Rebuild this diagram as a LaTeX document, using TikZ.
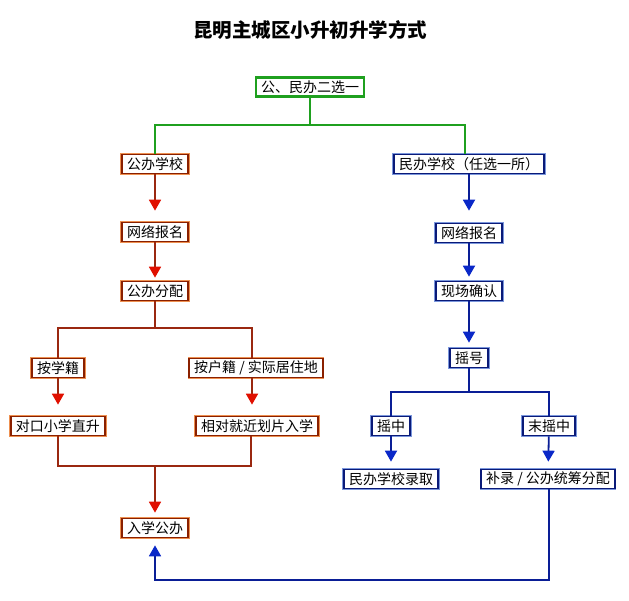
\documentclass[tikz,border=0pt]{standalone}
\usepackage{fontspec}
\setmainfont{Noto Sans CJK SC}
\usetikzlibrary{arrows.meta}
\definecolor{rline}{HTML}{9A2810}
\definecolor{rtip}{HTML}{E01000}
\definecolor{rbox}{HTML}{8A2000}
\definecolor{rglow}{HTML}{EE9050}
\definecolor{bline}{HTML}{0A1E96}
\definecolor{btip}{HTML}{0A28C8}
\definecolor{bbox}{HTML}{0A1A78}
\definecolor{bglow}{HTML}{7A96DC}
\definecolor{gline}{HTML}{1FA01F}
\tikzset{
  box/.style={inner xsep=5pt, inner ysep=2pt, minimum height=19pt, fill=white, font=\fontsize{14}{16}\selectfont, line width=1.7pt},
  rbx/.style={box, draw=rbox, preaction={draw=rglow, line width=3.2pt}},
  bbx/.style={box, draw=bbox, preaction={draw=bglow, line width=3.2pt}},
  gbx/.style={box, draw=gline, line width=2.2pt},
  rl/.style={draw=rline, line width=1.8pt},
  bl/.style={draw=bline, line width=1.8pt},
  gl/.style={draw=gline, line width=1.8pt},
  rarr/.style={rl, -{Triangle[length=11pt,width=12pt,color=rtip]}},
  barr/.style={bl, -{Triangle[length=11pt,width=12pt,color=btip]}},
}
\begin{document}
\begin{tikzpicture}[x=1pt,y=-1pt]
\useasboundingbox (0,0) rectangle (629,601);
\node[font=\fontsize{19.5}{22}\selectfont\bfseries] (title) at (310,30) {昆明主城区小升初升学方式};
\node[gbx] (top) at (310,87) {公、民办二选一};
\node[rbx] (gb) at (155,164) {公办学校};
\node[bbx] (mb) at (469,164) {民办学校（任选一所）};
\node[rbx] (gw) at (155,232) {网络报名};
\node[rbx] (gf) at (155,291) {公办分配};
\node[rbx] (xj) at (58,368) {按学籍};
\node[rbx] (hj) at (256,368) {按户籍 / 实际居住地};
\node[rbx] (dk) at (58,426) {对口小学直升};
\node[rbx] (xd) at (257,426) {相对就近划片入学};
\node[rbx] (rx) at (155,528) {入学公办};
\node[bbx] (mw) at (469,233) {网络报名};
\node[bbx] (xc) at (469,291) {现场确认};
\node[bbx] (yh) at (469,358) {摇号};
\node[bbx] (yz) at (391,426) {摇中};
\node[bbx] (wy) at (549,426) {末摇中};
\node[bbx] (ml) at (391,479) {民办学校录取};
\node[bbx] (bu) at (548,479) {补录 / 公办统筹分配};
\coordinate (g1) at (310,125);
\coordinate (r1) at (155,328);
\coordinate (r2) at (155,466);
\coordinate (b1) at (469,392);
\coordinate (b2) at (549,580);
% green
\draw[gl] (top.south) -- (g1) -| (gb.north);
\draw[gl] (g1) -| ([xshift=-4pt]mb.north);
% red
\draw[rarr, shorten >=11pt] (gb) -- (gw);
\draw[rarr, shorten >=3pt] (gw) -- (gf);
\draw[rl] (gf.south) -- (r1) -| (xj.north);
\draw[rl] (r1) -| ([xshift=-4pt]hj.north);
\draw[rarr, shorten >=11pt] (xj) -- (dk);
\draw[rarr, shorten >=11pt] ([xshift=-4pt]hj.south) -- ([xshift=-5pt]xd.north);
\draw[rl] (dk.south) |- (r2) -| ([xshift=-6pt]xd.south);
\draw[rarr, shorten >=5pt] (r2) -- (rx.north);
% blue
\draw[barr, shorten >=12pt] (mb) -- (mw);
\draw[barr, shorten >=4pt] (mw) -- (xc);
\draw[barr, shorten >=5pt] (xc) -- (yh);
\draw[bl] (yh.south) -- (b1) -| (yz.north);
\draw[bl] (b1) -| (wy.north);
\draw[barr, shorten >=7pt] (yz) -- (ml);
\draw[barr, shorten >=7pt] (wy) -- (bu);
\draw[barr, shorten >=7pt] (bu.south -| b2) -- (b2) -| (rx.south);
\end{tikzpicture}
\end{document}
